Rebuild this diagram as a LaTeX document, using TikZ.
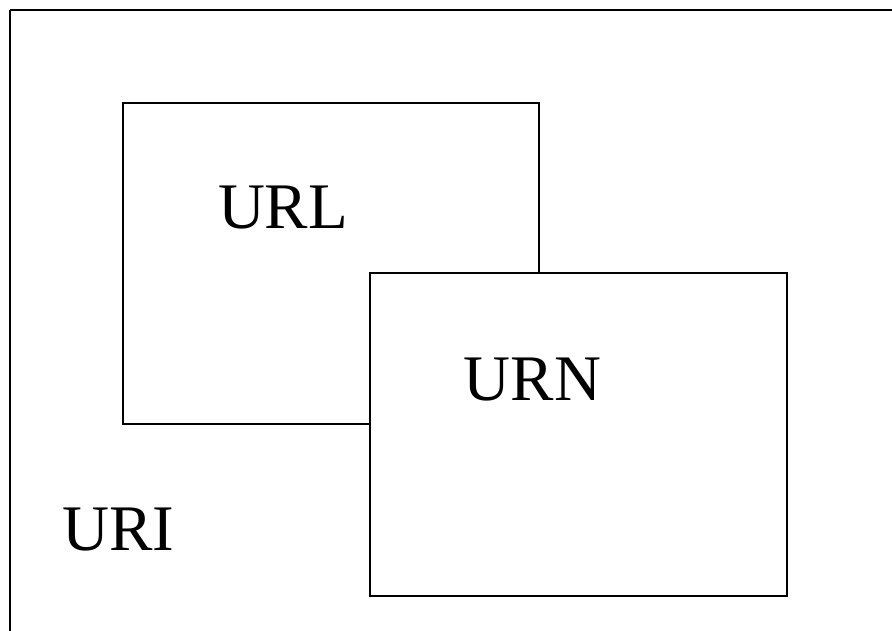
\documentclass[tikz,border=0pt]{standalone}
\usepackage{fontspec}
\setmainfont{Liberation Serif}
\begin{document}
\begin{tikzpicture}[x=1pt,y=-1pt,
  outerbox/.style={draw=black,line width=2pt},
  setbox/.style={draw=black,fill=white,line width=1.3pt},
  lbl/.style={anchor=base,inner sep=0pt,font=\fontsize{65}{65}\selectfont}]
\useasboundingbox (0,0) rectangle (892,630);
\draw[outerbox] (9.5,9.5) -- (895,9.5);
\draw[outerbox] (9.5,9.5) -- (9.5,635);
\draw[setbox] (123,103) rectangle (539,424);
\draw[setbox] (370,273) rectangle (787,596);
\node[lbl] (url) at (283,228) {URL};
\node[lbl] (urn) at (532.5,400.5) {URN};
\node[lbl] (uri) at (118.5,550.5) {URI};
\end{tikzpicture}
\end{document}
